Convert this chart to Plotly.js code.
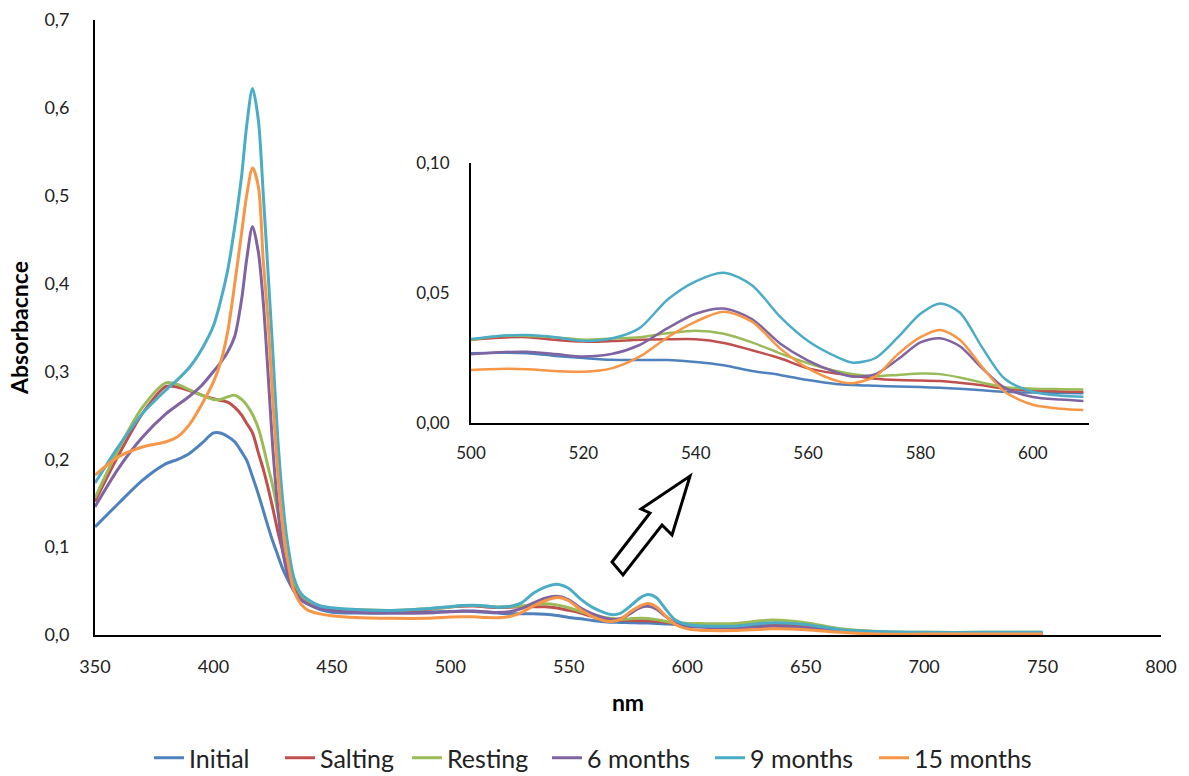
<!DOCTYPE html>
<html>
<head>
<meta charset="utf-8">
<script src="https://cdn.plot.ly/plotly-3.0.1.min.js"></script>
<style>html,body{margin:0;padding:0;background:#fff;}#chart{width:1189px;height:776px;}</style>
</head>
<body>
<div id="chart"></div>
<script>
const wavelength = [350,360,370,380,385,390,395,400,403,406,409,412,414,416.5,419,421,423,425,427,429,431,434,437,440,445,450,460,475,490,500,505,510,515,520,525,530,535,540,545,550,555,560,565,568,572,576,580,583.5,587,591,595,600,605,609,620,636,650,665,680,700,725,750];

const initial = [0.123,0.150,0.176,0.195,0.200,0.207,0.218,0.230,0.230,0.226,0.220,0.208,0.199,0.180,0.160,0.142,0.124,0.107,0.092,0.077,0.065,0.050,0.040,0.035,0.029,0.026,0.025,0.025,0.026,0.0268,0.0270,0.0268,0.0258,0.0250,0.0243,0.0242,0.0242,0.0235,0.0222,0.0200,0.0185,0.0165,0.0150,0.0146,0.0143,0.0140,0.0138,0.0136,0.0132,0.0126,0.0120,0.0117,0.0115,0.0114,0.010,0.011,0.009,0.005,0.003,0.002,0.002,0.002];

const salting = [0.152,0.205,0.252,0.283,0.282,0.278,0.273,0.269,0.267,0.265,0.259,0.250,0.241,0.230,0.207,0.189,0.168,0.145,0.120,0.098,0.077,0.055,0.045,0.038,0.032,0.030,0.028,0.027,0.029,0.032,0.0328,0.033,0.032,0.0313,0.0315,0.032,0.0322,0.0322,0.0308,0.0280,0.0249,0.0210,0.0190,0.0182,0.0170,0.0165,0.0163,0.0162,0.0155,0.0145,0.0132,0.0125,0.0121,0.012,0.011,0.013,0.011,0.006,0.003,0.002,0.002,0.002];

const resting = [0.156,0.212,0.259,0.287,0.285,0.279,0.273,0.268,0.268,0.271,0.273,0.268,0.262,0.251,0.235,0.215,0.192,0.170,0.143,0.115,0.090,0.061,0.046,0.039,0.033,0.030,0.029,0.028,0.030,0.032,0.0335,0.0335,0.033,0.032,0.0325,0.033,0.0345,0.0355,0.0343,0.031,0.0268,0.0230,0.0200,0.0188,0.0180,0.0185,0.0190,0.0188,0.0175,0.0155,0.0138,0.0132,0.0130,0.0129,0.013,0.017,0.014,0.007,0.004,0.003,0.003,0.003];

const months6 = [0.146,0.190,0.225,0.252,0.262,0.272,0.284,0.300,0.310,0.322,0.340,0.384,0.427,0.465,0.435,0.380,0.300,0.215,0.150,0.100,0.072,0.050,0.040,0.035,0.030,0.028,0.026,0.025,0.025,0.0264,0.0272,0.0274,0.0265,0.0256,0.0265,0.0300,0.0365,0.0420,0.0440,0.0400,0.0306,0.0240,0.0195,0.0178,0.0188,0.0245,0.0310,0.0326,0.0295,0.0210,0.0135,0.0100,0.0090,0.0085,0.008,0.010,0.008,0.004,0.002,0.002,0.002,0.002];

const months9 = [0.173,0.215,0.252,0.279,0.291,0.305,0.325,0.352,0.380,0.415,0.465,0.525,0.579,0.622,0.585,0.503,0.415,0.325,0.230,0.160,0.110,0.065,0.047,0.040,0.033,0.031,0.029,0.028,0.030,0.0323,0.0335,0.0338,0.0330,0.0316,0.0325,0.0365,0.0475,0.0545,0.0578,0.0530,0.0409,0.0315,0.0255,0.0232,0.0250,0.0330,0.0420,0.0460,0.0425,0.0290,0.0170,0.0120,0.0105,0.0101,0.010,0.014,0.012,0.006,0.004,0.003,0.003,0.003];

const months15 = [0.182,0.203,0.214,0.220,0.226,0.240,0.262,0.288,0.310,0.345,0.400,0.460,0.500,0.5315,0.510,0.427,0.360,0.270,0.190,0.130,0.090,0.050,0.035,0.028,0.024,0.022,0.020,0.019,0.019,0.0204,0.0208,0.0207,0.0200,0.0197,0.0210,0.0255,0.0330,0.0390,0.0428,0.0390,0.0287,0.0210,0.0163,0.0153,0.0180,0.0265,0.0330,0.0358,0.0320,0.0215,0.0120,0.0070,0.0055,0.0050,0.005,0.007,0.006,0.003,0.001,0.001,0.001,0.001];

const seriesNames = ["Initial","Salting","Resting","6 months","9 months","15 months"];
const seriesColors = ["#4F81BD","#C0504D","#9BBB59","#8064A2","#4BACC6","#F79646"];
const seriesValues = [initial, salting, resting, months6, months9, months15];

const mainTicks = [350,400,450,500,550,600,650,700,750,800];
const mainYTicks = [0,0.1,0.2,0.3,0.4,0.5,0.6,0.7];
const insetXTicks = [500,520,540,560,580,600];
const insetYTicks = [0,0.05,0.10];
const insetMax = 609;

const font = "Lato, 'Open Sans', sans-serif";
const legendIds = ['legend','legend2','legend3','legend4','legend5','legend6'];
const legendLeftPx = [154, 285, 412, 552, 715, 879];

const traces = [];
seriesValues.forEach((vals, i) => {
  traces.push({x: wavelength, y: vals, type: 'scatter', mode: 'lines', name: seriesNames[i], legend: legendIds[i],
    line: {color: seriesColors[i], width: 3, shape: 'spline', smoothing: 0.8}, xaxis: 'x', yaxis: 'y'});
});
seriesValues.forEach((vals, i) => {
  const xs = [], ys = [];
  wavelength.forEach((w, k) => { if (w >= 500 && w <= insetMax) { xs.push(w); ys.push(vals[k]); } });
  traces.push({x: xs, y: ys, type: 'scatter', mode: 'lines', name: seriesNames[i], showlegend: false,
    line: {color: seriesColors[i], width: 2.5, shape: 'spline', smoothing: 0.8}, xaxis: 'x2', yaxis: 'y2'});
});

function px2paper(px, py) { return [(px - 95) / 1066, (635 - py) / 615]; }
const arrowPx = [[690,476],[672,535],[662,525],[623,575],[612,562],[650,513],[641,509]];
const arrowPath = arrowPx.map((p, i) => { const q = px2paper(p[0], p[1]); return (i ? 'L' : 'M') + q[0].toFixed(4) + ',' + q[1].toFixed(4); }).join(' ') + ' Z';

const layout = {
  width: 1189, height: 776,
  margin: {l: 95, r: 28, t: 20, b: 141},
  paper_bgcolor: '#fff', plot_bgcolor: 'rgba(0,0,0,0)',
  separators: ',.',
  font: {family: font, size: 18, color: '#000'},
  showlegend: true,
  xaxis: {domain: [0, 1], range: [350, 800], tickvals: mainTicks, showgrid: false, zeroline: false, automargin: false,
    showline: true, linecolor: '#000', linewidth: 2, ticks: '', ticklabelstandoff: 14,
    tickfont: {family: font, size: 18, color: '#222'},
    title: {text: '<b>nm</b>', font: {family: font, size: 23, color: '#000'}, standoff: 19}},
  yaxis: {domain: [0, 1], range: [0, 0.7], tickvals: mainYTicks, tickformat: '.1f', showgrid: false, zeroline: false, automargin: false,
    showline: true, linecolor: '#000', linewidth: 2, ticks: '', ticklabelstandoff: 20,
    tickfont: {family: font, size: 18, color: '#222'},
    title: {text: '<b>Absorbacnce</b>', font: {family: font, size: 23, color: '#000'}, standoff: 9}},
  xaxis2: {domain: [(471 - 95) / 1066, (1089 - 95) / 1066], anchor: 'y2', range: [500, 610], tickvals: insetXTicks, automargin: false,
    showgrid: false, zeroline: false, showline: true, linecolor: '#000', linewidth: 2, ticks: '',
    ticklabelstandoff: 14, tickfont: {family: font, size: 17, color: '#222'}},
  yaxis2: {domain: [(635 - 423) / 615, (635 - 163) / 615], anchor: 'x2', range: [0, 0.1], tickvals: insetYTicks, automargin: false,
    tickformat: '.2f', showgrid: false, zeroline: false, showline: true, linecolor: '#000', linewidth: 2, ticks: '',
    ticklabelstandoff: 16, tickfont: {family: font, size: 17, color: '#222'}},
  shapes: [{type: 'path', xref: 'paper', yref: 'paper', path: arrowPath,
    line: {color: '#000', width: 3}, fillcolor: '#fff'}]
};
legendIds.forEach((id, i) => {
  layout[id] = {orientation: 'h', xref: 'container', yref: 'container', x: (legendLeftPx[i] - 5) / 1189, xanchor: 'left',
    y: (776 - 758) / 776, yanchor: 'middle', bgcolor: 'rgba(0,0,0,0)',
    font: {family: font, size: 25, color: '#222'}, itemwidth: 30};
});

Plotly.newPlot('chart', traces, layout, {displayModeBar: false, staticPlot: true});
</script>
</body>
</html>
